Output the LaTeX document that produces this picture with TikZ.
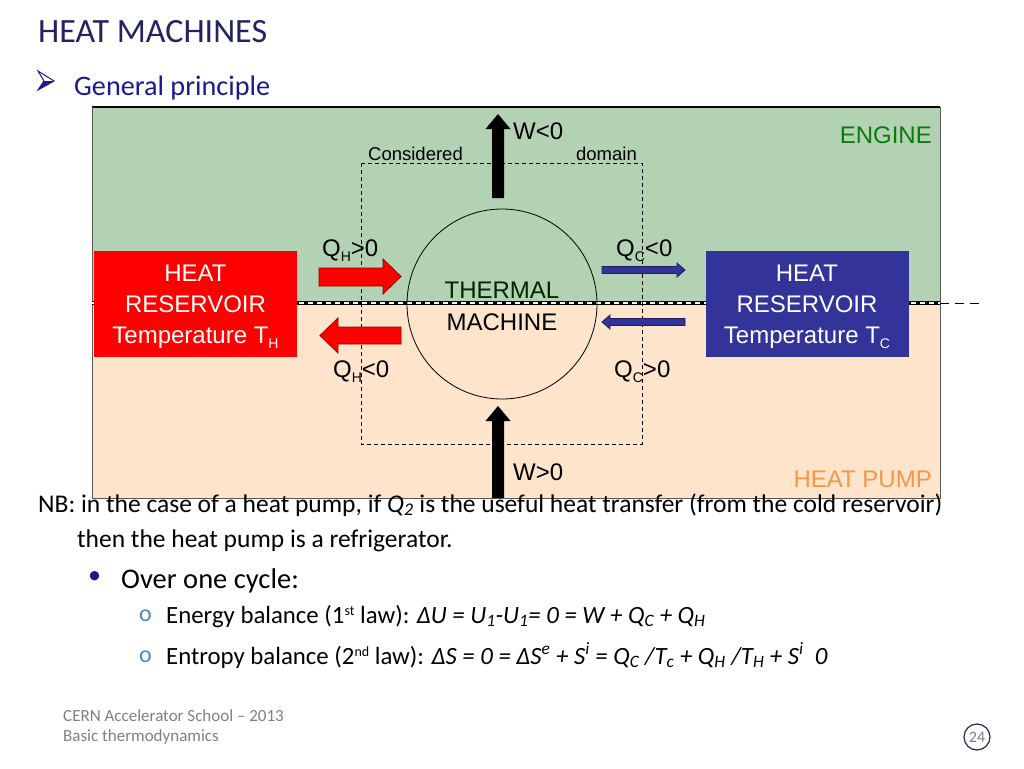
\documentclass[tikz,border=0pt]{standalone}
\usepackage{fontspec}
\setmainfont{Carlito}
\newfontfamily\arial{Liberation Sans}
\definecolor{titlenavy}{HTML}{23235F}
\definecolor{subnavy}{HTML}{1A1A8C}
\definecolor{engreen}{HTML}{B3D1B3}
\definecolor{pumppeach}{HTML}{FDE4CB}
\definecolor{resblue}{HTML}{333399}
\definecolor{engtext}{HTML}{0A7A0A}
\definecolor{pumptext}{HTML}{F79646}
\definecolor{obullet}{HTML}{4A86C8}
\definecolor{footgrey}{HTML}{7F7F7F}
\newcommand\lowsub[1]{{\fontsize{14}{14}\selectfont\raisebox{-5pt}{#1}}}
\tikzset{
  diag/.style={font=\arial\fontsize{24}{24}\selectfont, inner sep=0pt},
  reservoir/.style={diag, text=white, align=center, minimum width=203pt, minimum height=106pt, font=\arial\fontsize{24}{31}\selectfont},
  body/.style={anchor=base west, inner sep=0pt, font=\fontsize{25.5}{25.5}\selectfont},
  item/.style={anchor=base west, inner sep=0pt, font=\fontsize{24.8}{24.8}\selectfont},
  redarrow/.style={fill=red, draw=red!55!black, line width=0.8pt},
  bluearrow/.style={fill=resblue, draw=resblue!60!black, line width=0.8pt},
  workarrow/.style={fill=black},
}
\begin{document}
\begin{tikzpicture}[x=1pt,y=-1pt]
\useasboundingbox (0,0) rectangle (1024,768);
% title
\node[anchor=base west, inner sep=0pt, text=titlenavy, font=\fontsize{34}{34}\selectfont] (title) at (38,43) {HEAT MACHINES};
% arrowhead bullet
\fill[subnavy] (44,81) -- (54,81) -- (38,90) -- cycle;
\draw[subnavy, line width=1pt, line join=miter] (38,71) -- (54,81) -- (38,90) -- (44,81) -- cycle;
\node[anchor=base west, inner sep=0pt, text=subnavy, font=\fontsize{28.2}{28.2}\selectfont] (sub) at (74,95) {General principle};
% backgrounds
\fill[engreen] (92,107) rectangle (940,303);
\fill[pumppeach] (92,303) rectangle (940,498);
\draw[black, line width=1.2pt] (92,107) -- (940,107);
\draw[gray!70!black, line width=0.8pt] (92,107) -- (92,498) -- (940,498) -- (940,107);
\draw[black, line width=3.6pt] (92,303) -- (940,303);
\draw[white, line width=1.2pt, dash pattern=on 5pt off 4pt] (92,303) -- (940,303);
\draw[black, line width=0.9pt, dash pattern=on 9pt off 6pt] (940,303) -- (982,303);
% considered domain
\draw[black, line width=0.8pt, dash pattern=on 4pt off 3pt] (361,163) rectangle (642,444);
\node[diag, font=\arial\fontsize{18.5}{18.5}\selectfont, anchor=base west] (cons) at (368,160) {Considered};
\node[diag, font=\arial\fontsize{18.5}{18.5}\selectfont, anchor=base east] (dom) at (637,160) {domain};
% machine
\node[draw, circle, minimum size=190pt, inner sep=0pt, line width=0.8pt] (mach) at (502,304) {};
\node[diag, anchor=base, text=black!85!green] (th) at (502,298) {THERMAL};
\node[diag, anchor=base] (ma) at (502,330) {MACHINE};
% reservoirs
\node[reservoir, fill=red] (hot) at (195.5,304) {};
\node[reservoir, fill=resblue] (cold) at (807,304) {};
\node[diag, text=white, align=center, font=\arial\fontsize{24}{31}\selectfont] (hottxt) at (195.5,307) {HEAT\\RESERVOIR\\Temperature T\lowsub{H}};
\node[diag, text=white, align=center, font=\arial\fontsize{24}{31}\selectfont] (coldtxt) at (807,307) {HEAT\\RESERVOIR\\Temperature T\lowsub{C}};
% work arrows
\path[workarrow] (492,198) -- (492,129) -- (485.5,129) -- (498,114) -- (510.5,129) -- (504,129) -- (504,198) -- cycle;
\path[workarrow] (492,498) -- (492,421) -- (485.5,421) -- (498,406) -- (510.5,421) -- (504,421) -- (504,498) -- cycle;
\node[diag, anchor=base west] (wneg) at (513,139) {W<0};
\node[diag, anchor=base west] (wpos) at (513,480) {W>0};
% heat arrows
\draw[redarrow] (319,268) -- (383,268) -- (383,259) -- (401,276.5) -- (383,294) -- (383,286) -- (319,286) -- cycle;
\draw[redarrow] (401,327) -- (338,327) -- (338,318) -- (320,335.5) -- (338,353) -- (338,344) -- (401,344) -- cycle;
\draw[bluearrow] (602,266.5) -- (677,266.5) -- (677,263) -- (685,270) -- (677,277) -- (677,273.5) -- (602,273.5) -- cycle;
\draw[bluearrow] (685,318.5) -- (610,318.5) -- (610,315) -- (602,322) -- (610,329) -- (610,325.5) -- (685,325.5) -- cycle;
\node[diag, anchor=base west] (qhp) at (322,256) {Q\lowsub{H}>0};
\node[diag, anchor=base west] (qcn) at (616,256) {Q\lowsub{C}<0};
\node[diag, anchor=base west] (qhn) at (333,377) {Q\lowsub{H}<0};
\node[diag, anchor=base west] (qcp) at (614,377) {Q\lowsub{C}>0};
\node[diag, anchor=base east, text=engtext] (eng) at (932,143) {ENGINE};
\node[diag, anchor=base east, text=pumptext] (pump) at (932,487) {HEAT PUMP};
% text
\node[body] (nb1) at (38,512) {NB: in the case of a heat pump, if \textit{Q\textsubscript{2}} is the useful heat transfer (from the cold reservoir)};
\node[body] (nb2) at (77,547) {then the heat pump is a refrigerator.};
\node[anchor=base west, inner sep=0pt, text=subnavy, font=\fontsize{26}{26}\selectfont] (b1) at (88,583) {•};
\node[anchor=base west, inner sep=0pt, font=\fontsize{28.5}{28.5}\selectfont] (over) at (121,588) {Over one cycle:};
\node[anchor=base west, inner sep=0pt, text=obullet, font=\fontsize{24}{24}\selectfont] (o1) at (139,621) {o};
\node[item] (en) at (166,623) {Energy balance (1{\fontsize{14}{14}\selectfont\raisebox{8pt}{st}} law): \textit{ΔU = U\textsubscript{1}-U\textsubscript{1}= 0 = W + Q\textsubscript{C} + Q\textsubscript{H}}};
\node[anchor=base west, inner sep=0pt, text=obullet, font=\fontsize{24}{24}\selectfont] (o2) at (139,662) {o};
\node[item] (ent) at (166,664) {Entropy balance (2{\fontsize{14}{14}\selectfont\raisebox{8pt}{nd}} law): \textit{ΔS = 0 = ΔS\textsuperscript{e} + S\textsuperscript{i} = Q\textsubscript{C} /T\textsubscript{c} + Q\textsubscript{H} /T\textsubscript{H} + S\textsuperscript{i}~~0}};
% footer
\node[anchor=base west, inner sep=0pt, text=footgrey, font=\fontsize{17}{17}\selectfont] (f1) at (63,721) {CERN Accelerator School – 2013};
\node[anchor=base west, inner sep=0pt, text=footgrey, font=\fontsize{17}{17}\selectfont] (f2) at (63,741) {Basic thermodynamics};
\node[draw=titlenavy, circle, line width=1.2pt, minimum size=26pt, inner sep=0pt, text=footgrey, font=\fontsize{16}{16}\selectfont] (pg) at (977,737) {24};
\end{tikzpicture}
\end{document}
